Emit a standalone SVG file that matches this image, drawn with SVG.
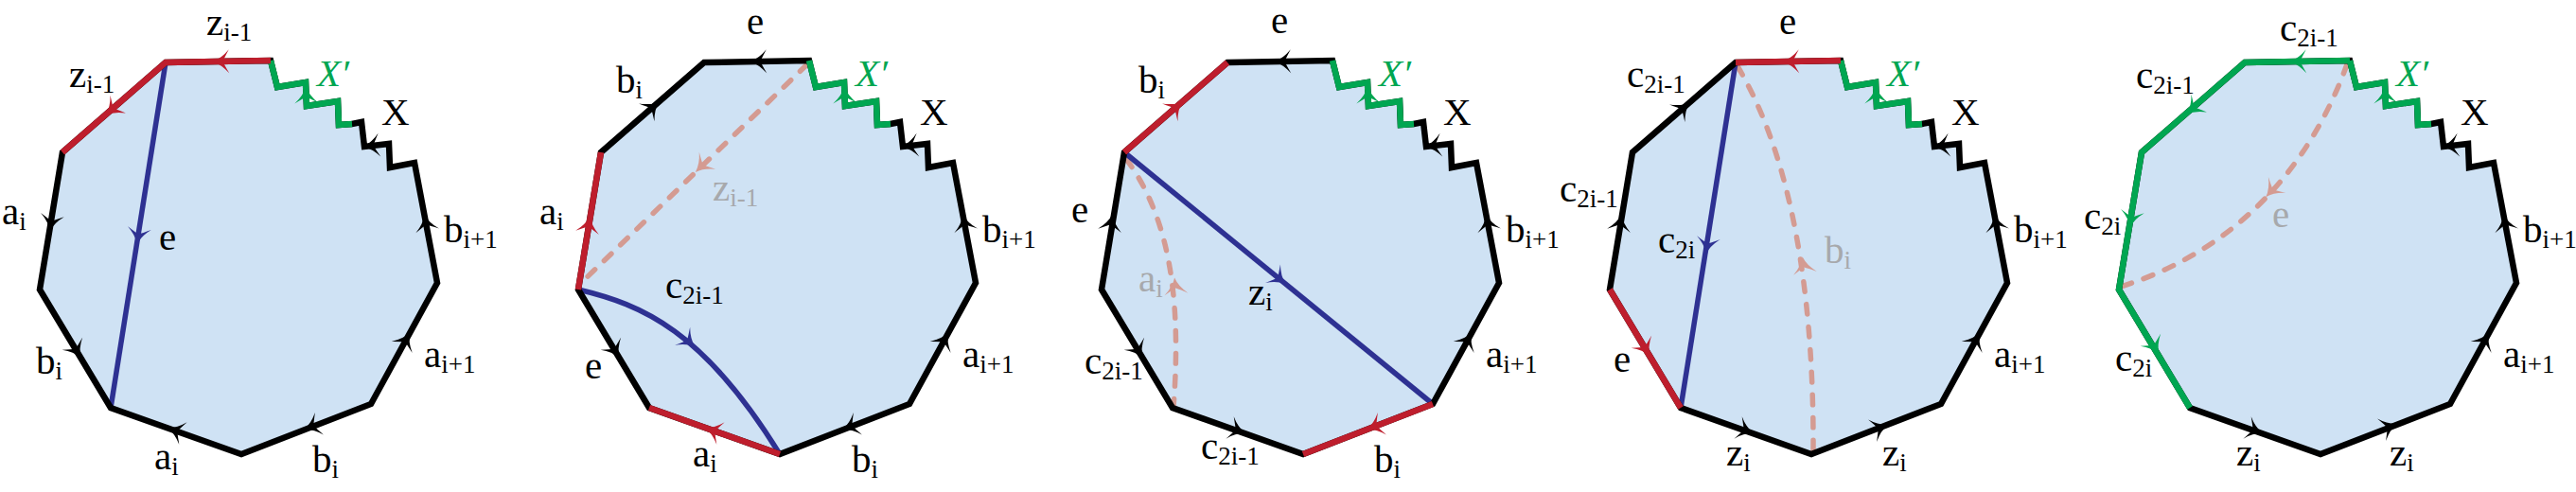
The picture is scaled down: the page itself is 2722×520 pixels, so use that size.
<svg xmlns="http://www.w3.org/2000/svg" xmlns:xlink="http://www.w3.org/1999/xlink" width="2722" height="520" viewBox="0 0 2722 520">
<style>
.fill{fill:#cfe2f4;stroke:none}
.ol{fill:none;stroke:#000;stroke-width:6.5;stroke-linejoin:miter;stroke-miterlimit:6}
.red{fill:none;stroke:#be1e2d;stroke-width:6.5;stroke-linejoin:miter}
.grn{fill:none;stroke:#00a651;stroke-width:6.5;stroke-linejoin:miter}
.blu{fill:none;stroke:#2e3192;stroke-width:5.5}
.dsh{fill:none;stroke:#d49b92;stroke-width:5.5;stroke-dasharray:10.5 13.5;stroke-linecap:round}
.ak{fill:#000}.ar{fill:#be1e2d}.ag{fill:#00a651}.ab{fill:#2e3192}.ap{fill:#d49b92}
.t{font-family:"Liberation Serif","DejaVu Serif",serif;font-size:41px;fill:#000}
.s{font-size:27px}
.gy{fill:#a7a9ac}
.gx{fill:#00a651;font-style:italic}
</style>
<defs>
<path id="shape" d="M175,66 L286,64 L293,92 L323,87 L324,112 L357,107 L358,132 L372,131 L382,129 L385,155 L411,152 L412,177 L438,172 L462,299 L392,427 L255,480 L117,431 L42,306 L66,161 Z"/>
<path id="zg" d="M286,64 L293,92 L323,87 L324,112 L357,107 L358,132 L372,131"/>
<path id="ah" d="M8.5,0 Q-1,-3 -9,-12.5 Q-4,-3.5 -2.5,0 Q-4,3.5 -9,12.5 Q-1,3 8.5,0 Z"/>
<g id="common">
<use xlink:href="#shape" class="fill"/>
</g>
<g id="rim">
<use xlink:href="#shape" class="ol"/>
<use xlink:href="#zg" class="grn"/>
</g>
<g id="rimlabels">
<use xlink:href="#ah" class="ag" transform="translate(323.5 100) rotate(-92)"/>
<use xlink:href="#ah" class="ak" transform="translate(392 154) rotate(174)"/>
<use xlink:href="#ah" class="ak" transform="translate(429 359) rotate(-61.3)"/>
<use xlink:href="#ah" class="ak" transform="translate(450 235) rotate(-100.7)"/>
<text class="t gx" x="335" y="91">X′</text>
<text class="t" x="403" y="132">X</text>
<text class="t" x="448" y="388">a<tspan class="s" dy="6">i+1</tspan></text>
<text class="t" x="469" y="256">b<tspan class="s" dy="6">i+1</tspan></text>
</g>
</defs>

<g id="panel1">
<use xlink:href="#common"/>
<g id="p1-connectors">
<path class="blu" d="M175,66 L117,431"/>
</g>
<use xlink:href="#rim"/>
<path class="red" d="M66,161 L175,66 L286,64"/>
<use xlink:href="#rimlabels"/>
<use xlink:href="#ah" class="ar" transform="translate(233 65) rotate(179)"/>
<use xlink:href="#ah" class="ar" transform="translate(118 116) rotate(138.9)"/>
<use xlink:href="#ah" class="ak" transform="translate(54 236) rotate(99.4)"/>
<use xlink:href="#ah" class="ak" transform="translate(81 371) rotate(59)"/>
<use xlink:href="#ah" class="ak" transform="translate(185 455) rotate(199.6)"/>
<use xlink:href="#ah" class="ak" transform="translate(329 451) rotate(158.9)"/>
<use xlink:href="#ah" class="ab" transform="translate(146 250) rotate(99)"/>
<text class="t" x="218" y="37">z<tspan class="s" dy="6">i-1</tspan></text>
<text class="t" x="73" y="92">z<tspan class="s" dy="6">i-1</tspan></text>
<text class="t" x="2" y="237">a<tspan class="s" dy="6">i</tspan></text>
<text class="t" x="38" y="395">b<tspan class="s" dy="6">i</tspan></text>
<text class="t" x="163" y="496">a<tspan class="s" dy="6">i</tspan></text>
<text class="t" x="330" y="499">b<tspan class="s" dy="6">i</tspan></text>
<text class="t" x="168" y="264">e</text>
</g>

<g id="panel2" transform="translate(569 0)">
<use xlink:href="#common"/>
<g id="p2-connectors">
<path class="dsh" d="M284,68 L44,300"/>
<path class="blu" d="M42,306 C110,322 175,350 255,480"/>
</g>
<use xlink:href="#rim"/>
<path class="red" d="M66,161 L42,306"/>
<path class="red" d="M117,431 L255,480"/>
<use xlink:href="#rimlabels"/>
<use xlink:href="#ah" class="ak" transform="translate(232 65) rotate(179)"/>
<use xlink:href="#ah" class="ak" transform="translate(121 113) rotate(-41.1)"/>
<use xlink:href="#ah" class="ar" transform="translate(53 237) rotate(-80.6)"/>
<use xlink:href="#ah" class="ak" transform="translate(81 371) rotate(59)"/>
<use xlink:href="#ah" class="ar" transform="translate(184 455) rotate(199.6)"/>
<use xlink:href="#ah" class="ak" transform="translate(329 451) rotate(158.9)"/>
<use xlink:href="#ah" class="ab" transform="translate(159 361) rotate(40)"/>
<use xlink:href="#ah" class="ap" transform="translate(172 176) rotate(136)"/>
<text class="t" x="220" y="36">e</text>
<text class="t" x="82" y="98">b<tspan class="s" dy="6">i</tspan></text>
<text class="t" x="1" y="237">a<tspan class="s" dy="6">i</tspan></text>
<text class="t" x="49" y="400">e</text>
<text class="t" x="163" y="493">a<tspan class="s" dy="6">i</tspan></text>
<text class="t" x="331" y="499">b<tspan class="s" dy="6">i</tspan></text>
<text class="t" x="134" y="315">c<tspan class="s" dy="6">2i-1</tspan></text>
<text class="t gy" x="184" y="212">z<tspan class="s" dy="6">i-1</tspan></text>
</g>

<g id="panel3" transform="translate(1122 0)">
<use xlink:href="#common"/>
<g id="p3-connectors">
<path class="dsh" d="M68,168 C108,222 128,300 118,430"/>
<path class="blu" d="M66,161 L392,427"/>
</g>
<use xlink:href="#rim"/>
<path class="red" d="M66,161 L175,66"/>
<path class="red" d="M255,480 L392,427"/>
<use xlink:href="#rimlabels"/>
<use xlink:href="#ah" class="ak" transform="translate(233 65) rotate(179)"/>
<use xlink:href="#ah" class="ar" transform="translate(121 113) rotate(-41.1)"/>
<use xlink:href="#ah" class="ak" transform="translate(52 235) rotate(-80.6)"/>
<use xlink:href="#ah" class="ak" transform="translate(81 371) rotate(59)"/>
<use xlink:href="#ah" class="ak" transform="translate(186 455) rotate(19.6)"/>
<use xlink:href="#ah" class="ar" transform="translate(330 451) rotate(158.9)"/>
<use xlink:href="#ah" class="ab" transform="translate(230 295) rotate(39.2)"/>
<use xlink:href="#ah" class="ap" transform="translate(120 302) rotate(-96)"/>
<text class="t" x="221" y="35">e</text>
<text class="t" x="81" y="98">b<tspan class="s" dy="6">i</tspan></text>
<text class="t" x="10" y="235">e</text>
<text class="t" x="24" y="395">c<tspan class="s" dy="6">2i-1</tspan></text>
<text class="t" x="147" y="485">c<tspan class="s" dy="6">2i-1</tspan></text>
<text class="t" x="330" y="499">b<tspan class="s" dy="6">i</tspan></text>
<text class="t" x="197" y="322">z<tspan class="s" dy="6">i</tspan></text>
<text class="t gy" x="81" y="308">a<tspan class="s" dy="6">i</tspan></text>
</g>

<g id="panel4" transform="translate(1659 0)">
<use xlink:href="#common"/>
<g id="p4-connectors">
<path class="dsh" d="M177,70 C225,150 258,280 257,478"/>
<path class="blu" d="M175,66 L117,431"/>
</g>
<use xlink:href="#rim"/>
<path class="red" d="M175,66 L286,64"/>
<path class="red" d="M42,306 L117,431"/>
<use xlink:href="#rimlabels"/>
<use xlink:href="#ah" class="ar" transform="translate(233 65) rotate(179)"/>
<use xlink:href="#ah" class="ak" transform="translate(120 114) rotate(-41.1)"/>
<use xlink:href="#ah" class="ak" transform="translate(53 235) rotate(-80.6)"/>
<use xlink:href="#ah" class="ar" transform="translate(80 369) rotate(59)"/>
<use xlink:href="#ah" class="ak" transform="translate(186 455) rotate(19.6)"/>
<use xlink:href="#ah" class="ak" transform="translate(328 452) rotate(-21.1)"/>
<use xlink:href="#ah" class="ab" transform="translate(145 260) rotate(99)"/>
<use xlink:href="#ah" class="ap" transform="translate(247 280) rotate(-99)"/>
<text class="t" x="221" y="36">e</text>
<text class="t" x="60" y="92">c<tspan class="s" dy="6">2i-1</tspan></text>
<text class="t" x="-11" y="213">c<tspan class="s" dy="6">2i-1</tspan></text>
<text class="t" x="46" y="393">e</text>
<text class="t" x="165" y="492">z<tspan class="s" dy="6">i</tspan></text>
<text class="t" x="330" y="492">z<tspan class="s" dy="6">i</tspan></text>
<text class="t" x="93" y="267">c<tspan class="s" dy="6">2i</tspan></text>
<text class="t gy" x="269" y="278">b<tspan class="s" dy="6">i</tspan></text>
</g>

<g id="panel5" transform="translate(2197 0)">
<use xlink:href="#common"/>
<g id="p5-connectors">
<path class="dsh" d="M283,68 C250,160 180,260 44,303"/>
</g>
<use xlink:href="#rim"/>
<path class="grn" d="M117,431 L42,306 L66,161 L175,66 L286,64"/>
<use xlink:href="#rimlabels"/>
<use xlink:href="#ah" class="ag" transform="translate(231 65) rotate(179)"/>
<use xlink:href="#ah" class="ag" transform="translate(120 115) rotate(138.9)"/>
<use xlink:href="#ah" class="ag" transform="translate(55 232) rotate(99.4)"/>
<use xlink:href="#ah" class="ag" transform="translate(80 367) rotate(59)"/>
<use xlink:href="#ah" class="ak" transform="translate(186 455) rotate(19.6)"/>
<use xlink:href="#ah" class="ak" transform="translate(328 451) rotate(-21.1)"/>
<use xlink:href="#ah" class="ap" transform="translate(203 202) rotate(132.7)"/>
<text class="t" x="212" y="43">c<tspan class="s" dy="6">2i-1</tspan></text>
<text class="t" x="60" y="93">c<tspan class="s" dy="6">2i-1</tspan></text>
<text class="t" x="5" y="242">c<tspan class="s" dy="6">2i</tspan></text>
<text class="t" x="38" y="392">c<tspan class="s" dy="6">2i</tspan></text>
<text class="t" x="166" y="492">z<tspan class="s" dy="6">i</tspan></text>
<text class="t" x="328" y="492">z<tspan class="s" dy="6">i</tspan></text>
<text class="t gy" x="204" y="240">e</text>
</g>
</svg>
